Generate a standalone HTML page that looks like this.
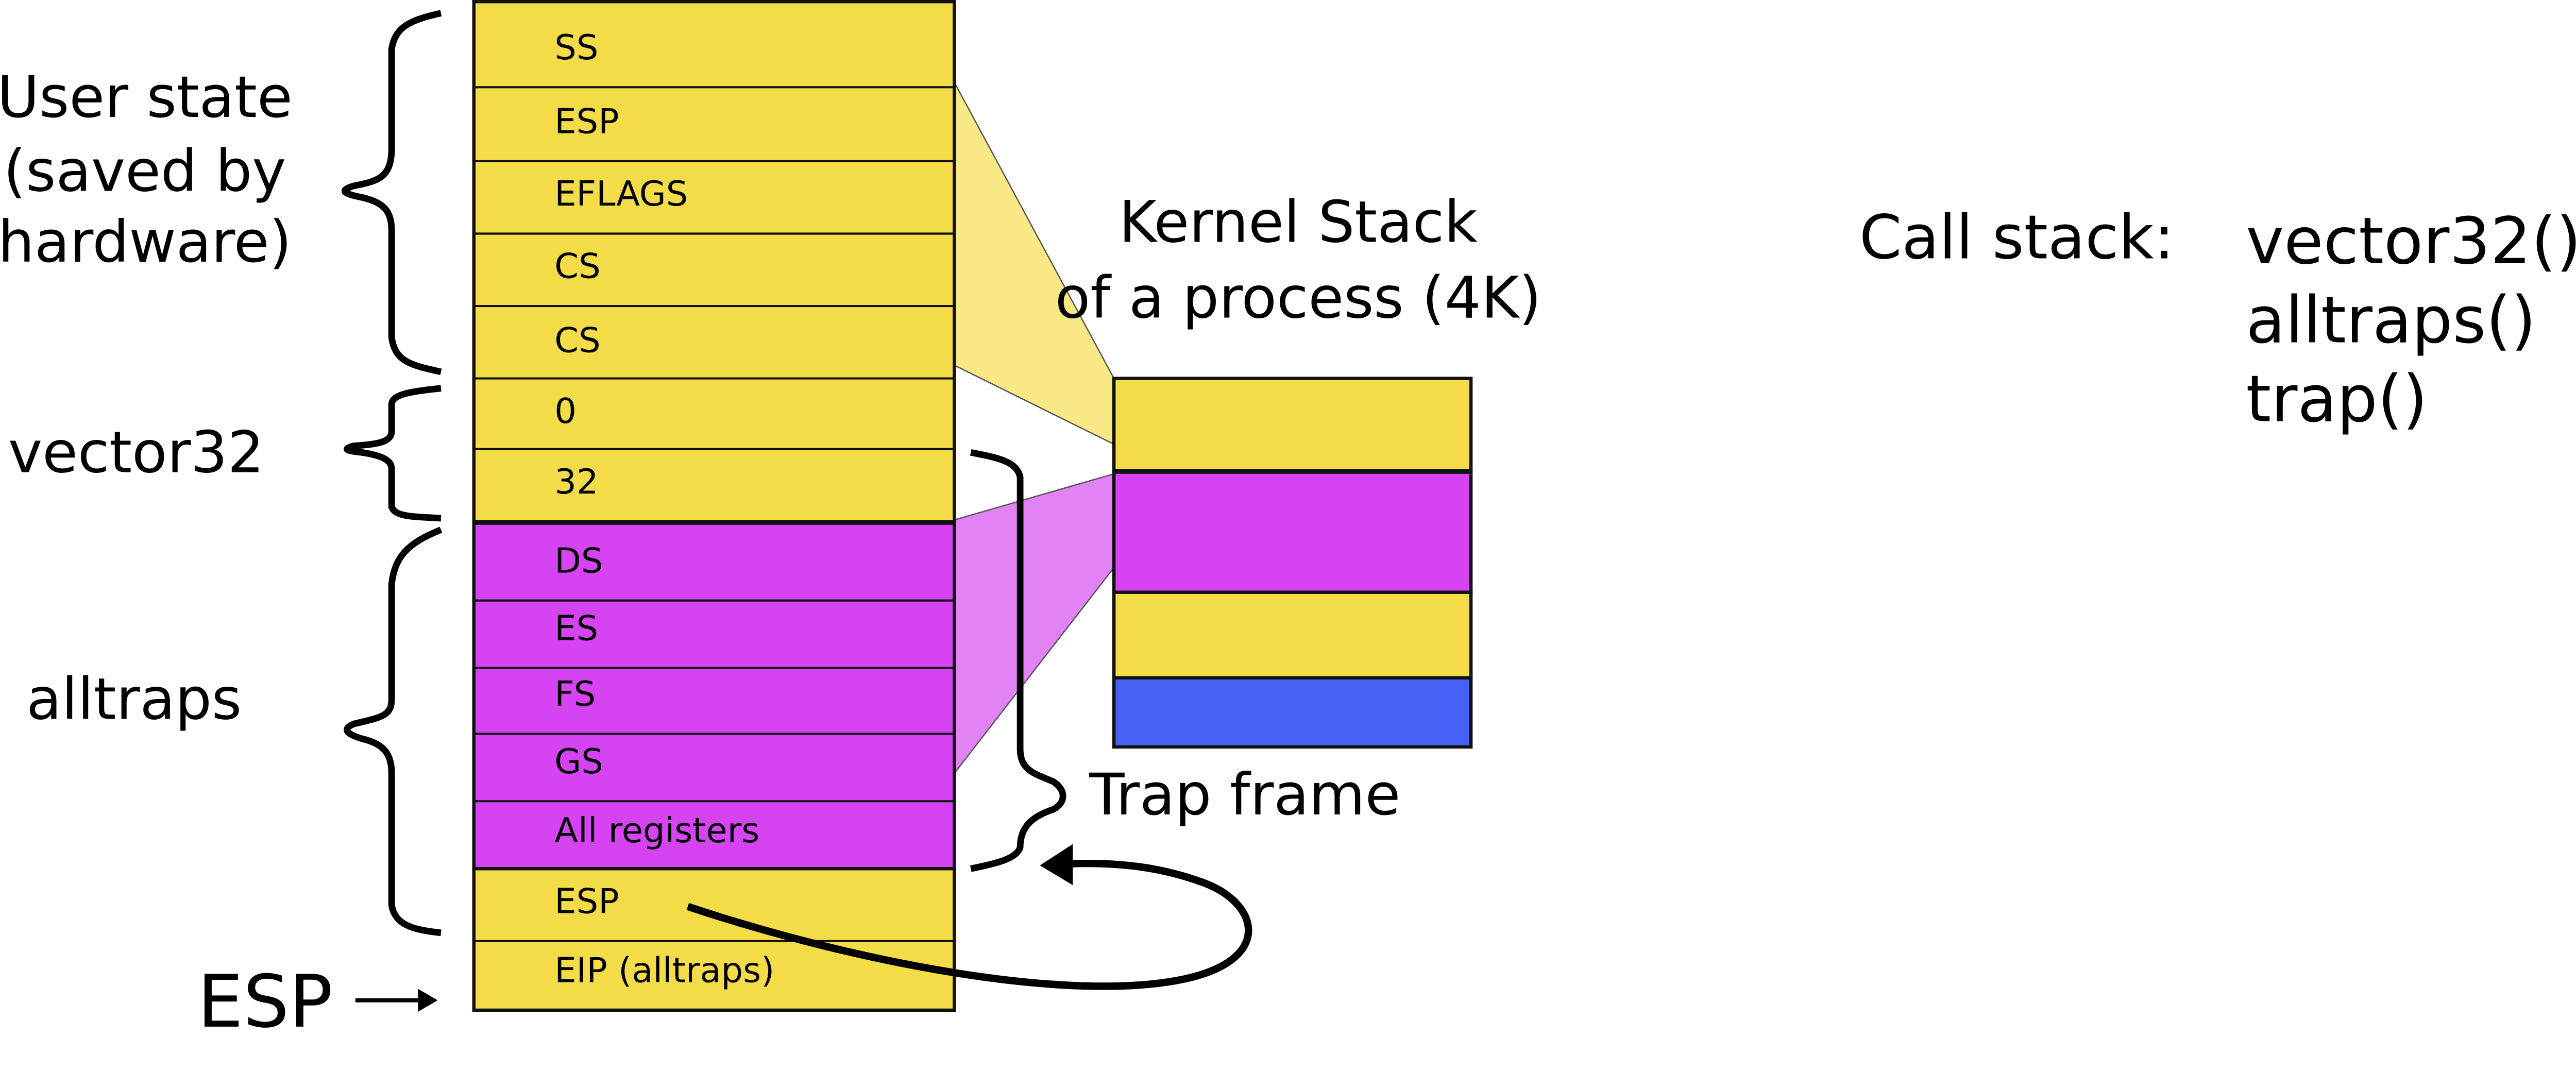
<!DOCTYPE html>
<html><head><meta charset="utf-8"><style>
html,body{margin:0;padding:0;background:#fff;}
svg{display:block;}
text{font-family:"DejaVu Sans","Liberation Sans",sans-serif;fill:#000;}
</style></head><body>
<svg width="5292" height="2112" viewBox="0 0 1657 661.3" xmlns="http://www.w3.org/2000/svg">
<polygon points="580,50 677,230 677,270 580,222" fill="#f8e886"/>
<line x1="580" y1="50" x2="677" y2="230" stroke="#555" stroke-width="0.8"/>
<line x1="580" y1="222" x2="677" y2="270" stroke="#555" stroke-width="0.8"/>
<polygon points="580,316 677,288 677,345 580,470" fill="#e283f5"/>
<line x1="580" y1="316" x2="677" y2="288" stroke="#555" stroke-width="0.8"/>
<line x1="580" y1="470" x2="677" y2="345" stroke="#555" stroke-width="0.8"/>

<g stroke="#111" stroke-width="1.3">
<rect x="288" y="1" width="292" height="316" fill="#f3dc47" stroke-width="2"/>
<rect x="288" y="318" width="292" height="210" fill="#d543f2" stroke-width="2"/>
<rect x="288" y="528" width="292" height="86" fill="#f3dc47" stroke-width="2"/>
<line x1="288" y1="53" x2="580" y2="53"/>
<line x1="288" y1="98" x2="580" y2="98"/>
<line x1="288" y1="142" x2="580" y2="142"/>
<line x1="288" y1="186" x2="580" y2="186"/>
<line x1="288" y1="230" x2="580" y2="230"/>
<line x1="288" y1="273" x2="580" y2="273"/>
<line x1="288" y1="365" x2="580" y2="365"/>
<line x1="288" y1="406" x2="580" y2="406"/>
<line x1="288" y1="446" x2="580" y2="446"/>
<line x1="288" y1="487" x2="580" y2="487"/>
<line x1="288" y1="572" x2="580" y2="572"/>
</g>
<g font-size="21">
<text x="337" y="36">SS</text>
<text x="337" y="81">ESP</text>
<text x="337" y="125">EFLAGS</text>
<text x="337" y="169">CS</text>
<text x="337" y="214">CS</text>
<text x="337" y="257">0</text>
<text x="337" y="300">32</text>
<text x="337" y="348">DS</text>
<text x="337" y="389">ES</text>
<text x="337" y="429">FS</text>
<text x="337" y="470">GS</text>
<text x="337" y="512">All registers</text>
<text x="337" y="555">ESP</text>
<text x="337" y="597">EIP (alltraps)</text>
</g>

<g stroke="#111" stroke-width="2">
<rect x="677" y="230" width="217" height="56" fill="#f3dc47"/>
<rect x="677" y="287" width="217" height="73" fill="#d543f2"/>
<rect x="677" y="360" width="217" height="52" fill="#f3dc47"/>
<rect x="677" y="412" width="217" height="42" fill="#4660f5"/>
</g>

<g fill="none" stroke="#000" stroke-width="4">
<path d="M268,8 C250,12 240,16 238,30 L238,90 C238,108 230,110 215,113 C205,116 210,118 220,120 C233,123 238,128 238,140 L238,205 C240,220 250,222 268,226"/>
<path d="M268,236 C248,238 238,240 238,246 L238,262 C238,268 232,270 215,271 C208,273 210,274 220,275 C233,277 238,280 238,285 L238,308 C240,314 250,314 268,315"/>
<path d="M268,322 C248,330 240,338 238,355 L238,425 C238,435 232,436 215,440 C208,443 210,446 220,449 C233,452 238,458 238,470 L238,550 C240,562 250,565 268,567"/>
<path d="M590,275 C605,278 618,280 620,290 L620,455 C620,468 628,470 640,475 C648,480 648,488 640,492 C628,496 620,502 620,515 C618,522 605,525 590,528"/>
</g>

<path d="M418,551 C520,585 650,610 720,595 C775,583 765,548 730,536 C705,527 680,524 650,525" fill="none" stroke="#000" stroke-width="4.5"/>
<polygon points="632,526 652,513 652,538" fill="#000"/>

<line x1="216" y1="608" x2="255" y2="608" stroke="#000" stroke-width="2.5"/>
<polygon points="266,608 254,601 254,615" fill="#000"/>
<text x="120" y="624" font-size="44">ESP</text>

<g font-size="35" text-anchor="middle">
<text x="88" y="71">User state</text>
<text x="88" y="116">(saved by</text>
<text x="88" y="159">hardware)</text>
<text x="789" y="147">Kernel Stack</text>
<text x="789" y="193">of a process (4K)</text>
</g>
<g font-size="35">
<text x="5" y="287">vector32</text>
<text x="16" y="437">alltraps</text>
<text x="662" y="495">Trap frame</text>
</g>
<text x="1130" y="157" font-size="37">Call stack:</text>
<g font-size="39">
<text x="1365" y="160">vector32()</text>
<text x="1365" y="208">alltraps()</text>
<text x="1365" y="256">trap()</text>
</g>
</svg>
</body></html>
